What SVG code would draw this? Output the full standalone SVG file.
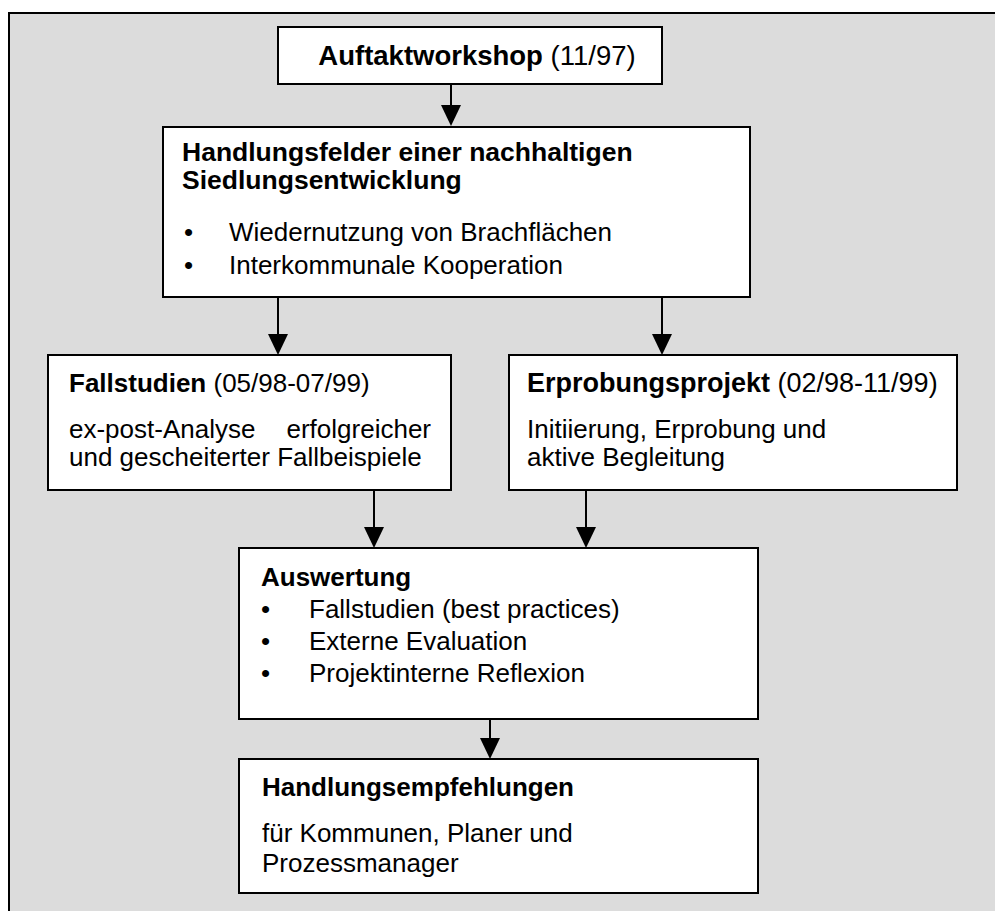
<svg xmlns="http://www.w3.org/2000/svg" width="995" height="911" viewBox="0 0 995 911">
<defs>
<style>
.box{fill:#fff;stroke:#000;stroke-width:2}
.t{font-family:"Liberation Sans",Arial,sans-serif;font-size:26px;fill:#000}
.b{font-weight:bold}
.conn line{stroke:#000;stroke-width:2}
</style>
</defs>
<rect x="9" y="13" width="1000" height="920" fill="#dcdcdc" stroke="#000" stroke-width="2"/>
<g id="connectors" class="conn">
<line x1="451" y1="85" x2="451" y2="106"/><path d="M441,105 L461,105 L451,126 Z"/>
<line x1="278" y1="298" x2="278" y2="335"/><path d="M268,334 L288,334 L278,355 Z"/>
<line x1="662" y1="298" x2="662" y2="335"/><path d="M652,334 L672,334 L662,355 Z"/>
<line x1="374" y1="491" x2="374" y2="528"/><path d="M364,527 L384,527 L374,548 Z"/>
<line x1="586" y1="491" x2="586" y2="528"/><path d="M576,527 L596,527 L586,548 Z"/>
<line x1="490" y1="719" x2="490" y2="739"/><path d="M480,738 L500,738 L490,759 Z"/>
</g>
<g id="auftakt">
<rect class="box" x="278" y="27" width="384" height="57"/>
<text class="t" x="477" y="65" text-anchor="middle" style="font-size:27.5px"><tspan class="b">Auftaktworkshop</tspan> (11/97)</text>
</g>
<g id="handlungsfelder">
<rect class="box" x="163" y="127" width="587" height="170"/>
<text class="t b" x="182" y="161" style="font-size:26.5px">Handlungsfelder einer nachhaltigen</text>
<text class="t b" x="182" y="189" style="font-size:26.5px">Siedlungsentwicklung</text>
<text class="t" x="184" y="241">•</text>
<text class="t" x="229" y="241">Wiedernutzung von Brachflächen</text>
<text class="t" x="184" y="274">•</text>
<text class="t" x="229" y="274">Interkommunale Kooperation</text>
</g>
<g id="fallstudien">
<rect class="box" x="48" y="355" width="403" height="135"/>
<text class="t" x="69" y="392"><tspan class="b">Fallstudien</tspan> (05/98-07/99)</text>
<text class="t" x="69" y="438">ex-post-Analyse</text>
<text class="t" x="431" y="438" text-anchor="end">erfolgreicher</text>
<text class="t" x="69" y="466">und gescheiterter Fallbeispiele</text>
</g>
<g id="erprobung">
<rect class="box" x="509" y="355" width="448" height="135"/>
<text class="t" x="527" y="392" style="font-size:27px"><tspan class="b">Erprobungsprojekt</tspan> (02/98-11/99)</text>
<text class="t" x="527" y="438">Initiierung, Erprobung und</text>
<text class="t" x="527" y="466">aktive Begleitung</text>
</g>
<g id="auswertung">
<rect class="box" x="239" y="548" width="519" height="171"/>
<text class="t b" x="261" y="586">Auswertung</text>
<text class="t" x="261" y="618">•</text>
<text class="t" x="309" y="618">Fallstudien (best practices)</text>
<text class="t" x="261" y="650">•</text>
<text class="t" x="309" y="650">Externe Evaluation</text>
<text class="t" x="261" y="682">•</text>
<text class="t" x="309" y="682">Projektinterne Reflexion</text>
</g>
<g id="empfehlungen">
<rect class="box" x="239" y="759" width="519" height="134"/>
<text class="t b" x="262" y="796">Handlungsempfehlungen</text>
<text class="t" x="262" y="842">für Kommunen, Planer und</text>
<text class="t" x="262" y="872">Prozessmanager</text>
</g>
</svg>
